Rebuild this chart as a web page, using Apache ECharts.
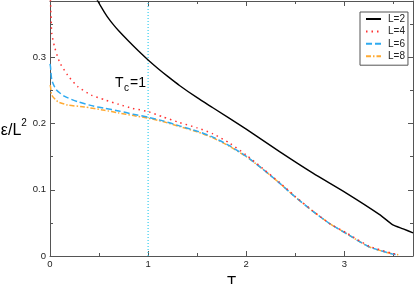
<!DOCTYPE html>
<html><head><meta charset="utf-8">
<script src="https://cdn.jsdelivr.net/npm/echarts@6/dist/echarts.min.js"></script>
<style>html,body{margin:0;padding:0;background:#fff}#c{width:415px;height:284px}</style>
</head><body><div id="c"></div>
<script>
// ---- data ----
const seriesNames = ['L=2', 'L=4', 'L=6', 'L=8'];

const T_L2 = [0.46, 0.487, 0.52, 0.555, 0.6, 0.65, 0.7, 0.8, 0.9, 1.0, 1.1, 1.2, 1.32, 1.5, 1.66, 2.0, 2.34, 2.68, 3.02, 3.36, 3.49, 3.6, 3.7];
const E_L2 = [0.393, 0.385, 0.3765, 0.368, 0.358, 0.3485, 0.340, 0.3245, 0.3098, 0.296, 0.2832, 0.2712, 0.2575, 0.239, 0.2238, 0.1915, 0.1575, 0.125, 0.095, 0.0625, 0.0475, 0.041, 0.035];

const T_L4 = [0.0, 0.005, 0.012, 0.018, 0.046, 0.097, 0.18, 0.28, 0.42, 0.555, 0.7, 0.84, 1.0, 1.15, 1.32, 1.5, 1.66, 1.83, 2.0, 2.17, 2.34, 2.5, 2.68, 2.85, 3.02, 3.25, 3.49, 3.55];
const E_L4 = [0.42, 0.385, 0.356, 0.336, 0.316, 0.293, 0.273, 0.256, 0.243, 0.236, 0.229, 0.223, 0.218, 0.210, 0.2015, 0.1935, 0.1845, 0.1705, 0.1525, 0.132, 0.111, 0.090, 0.068, 0.049, 0.035, 0.015, 0.004, 0.002];

const T_L6 = [0.0, 0.005, 0.018, 0.063, 0.15, 0.28, 0.45, 0.555, 0.7, 0.85, 1.0, 1.15, 1.32, 1.5, 1.66, 1.83, 2.0, 2.17, 2.34, 2.5, 2.68, 2.85, 3.02, 3.25, 3.49, 3.55];
const E_L6 = [0.290, 0.286, 0.266, 0.251, 0.241, 0.233, 0.226, 0.223, 0.219, 0.214, 0.2095, 0.204, 0.1965, 0.1885, 0.1795, 0.1665, 0.1505, 0.131, 0.110, 0.089, 0.0675, 0.049, 0.034, 0.014, 0.003, 0.002];

const T_L8 = [0.0, 0.005, 0.018, 0.08, 0.18, 0.35, 0.555, 0.7, 0.85, 1.0, 1.15, 1.32, 1.5, 1.66, 1.83, 2.0, 2.17, 2.34, 2.5, 2.68, 2.85, 3.02, 3.25, 3.49, 3.55];
const E_L8 = [0.258, 0.256, 0.243, 0.233, 0.228, 0.225, 0.220, 0.216, 0.212, 0.208, 0.203, 0.1955, 0.1875, 0.1785, 0.1655, 0.150, 0.131, 0.110, 0.089, 0.0675, 0.049, 0.034, 0.014, 0.003, 0.002];

const Tc = 1;
const xRange = [0, 3.7];
const yRange = [0, 0.385];
const xTickLabels = [0, 1, 2, 3];
const yTickLabels = [0, 0.1, 0.2, 0.3];
const xMinorTicks = [0.5, 1.5, 2.5, 3.5];
const yMinorTicks = [0.05, 0.15, 0.25, 0.35];

// ---- build chart ----
const FONT = 'Liberation Sans, Arial, sans-serif';
const AX = '#555';
const zip = (xs, ys) => xs.map((x, i) => [x, ys[i]]);

function axis(kind, pos, showLine, showLabels, tickVals, tickLen, extra) {
  const r = kind === 'x' ? xRange : yRange;
  return Object.assign({
    type: 'value', position: pos, min: r[0], max: r[1],
    interval: kind === 'x' ? (tickLen > 4 ? 1 : 0.5) : (tickLen > 4 ? 0.1 : 0.05),
    axisLine: { show: showLine, onZero: false, lineStyle: { color: AX, width: 1 } },
    axisTick: { show: true, inside: true, length: tickLen, customValues: tickVals, lineStyle: { color: AX, width: 1 } },
    axisLabel: { show: showLabels, customValues: showLabels ? tickVals : undefined, fontFamily: FONT, fontSize: 9.5, color: '#222',
      margin: kind === 'x' ? 3 : 4 },
    splitLine: { show: false },
    minorTick: { show: false }
  }, extra || {});
}

const option = {
  animation: false,
  backgroundColor: '#fff',
  grid: { left: 50, right: 2, top: 1, bottom: 28, containLabel: false, outerBoundsMode: 'none' },
  xAxis: [
    axis('x', 'bottom', true, true, xTickLabels, 5, {
      name: 'T', nameLocation: 'middle', nameGap: 11,
      nameTextStyle: { fontFamily: FONT, fontSize: 15, color: '#000' }
    }),
    axis('x', 'bottom', false, false, xMinorTicks, 3),
    axis('x', 'top', true, false, xTickLabels, 5),
    axis('x', 'top', false, false, xMinorTicks, 3)
  ],
  yAxis: [
    axis('y', 'left', true, true, yTickLabels, 5, {
      name: '{a|ε/L}{s|2}', nameLocation: 'middle', nameGap: 17, nameRotate: 0,
      nameTextStyle: { align: 'right', rich: {
        a: { fontFamily: FONT, fontSize: 16, color: '#000', lineHeight: 20, verticalAlign: 'bottom' },
        s: { fontFamily: FONT, fontSize: 10, color: '#000', verticalAlign: 'top', lineHeight: 12 }
      } }
    }),
    axis('y', 'left', false, false, yMinorTicks, 3),
    axis('y', 'right', true, false, yTickLabels, 5),
    axis('y', 'right', false, false, yMinorTicks, 3)
  ],
  legend: {
    data: seriesNames, orient: 'vertical', left: 360, top: 12,
    itemWidth: 15, itemHeight: 9, itemGap: 2.4,
    padding: [2, 3, 4, 5],
    backgroundColor: '#fff', borderColor: '#555', borderWidth: 1, borderRadius: 0,
    selectedMode: false,
    itemStyle: { opacity: 0 },
    textStyle: { fontFamily: FONT, fontSize: 10, color: '#222', padding: [0, 0, 0, 2] }
  },
  graphic: [
    { type: 'text', left: 115, top: 76, style: { text: 'T', fontFamily: FONT, fontSize: 14, fill: '#000' } },
    { type: 'text', left: 124, top: 83, style: { text: 'c', fontFamily: FONT, fontSize: 10, fill: '#000' } },
    { type: 'text', left: 130, top: 76, style: { text: '=1', fontFamily: FONT, fontSize: 14, fill: '#000' } }
  ],
  series: [
    { name: 'Tc', type: 'line', data: [[Tc, yRange[0]], [Tc, yRange[1]]], symbol: 'none', silent: true,
      lineStyle: { color: '#33ccee', width: 1.2, type: [1, 2] }, z: 1 },
    { name: 'L=2', type: 'line', data: zip(T_L2, E_L2), symbol: 'none', smooth: 0.2,
      color: '#000', lineStyle: { color: '#000', width: 1.4, type: 'solid' }, z: 5 },
    { name: 'L=4', type: 'line', data: zip(T_L4, E_L4), symbol: 'none', smooth: 0.2,
      color: '#f33', lineStyle: { color: '#f33', width: 1.5, type: [1.5, 4] }, z: 4 },
    { name: 'L=6', type: 'line', data: zip(T_L6, E_L6), symbol: 'none', smooth: 0.2,
      color: '#2eaaf0', lineStyle: { color: '#2eaaf0', width: 1.5, type: [6, 3] }, z: 3 },
    { name: 'L=8', type: 'line', data: zip(T_L8, E_L8), symbol: 'none', smooth: 0.2,
      color: '#ffaa33', lineStyle: { color: '#ffaa33', width: 1.5, type: [5, 2, 1.5, 2] }, z: 2 }
  ]
};

const chart = echarts.init(document.getElementById('c'), null, { renderer: 'canvas' });
chart.setOption(option);
</script>
</body></html>
